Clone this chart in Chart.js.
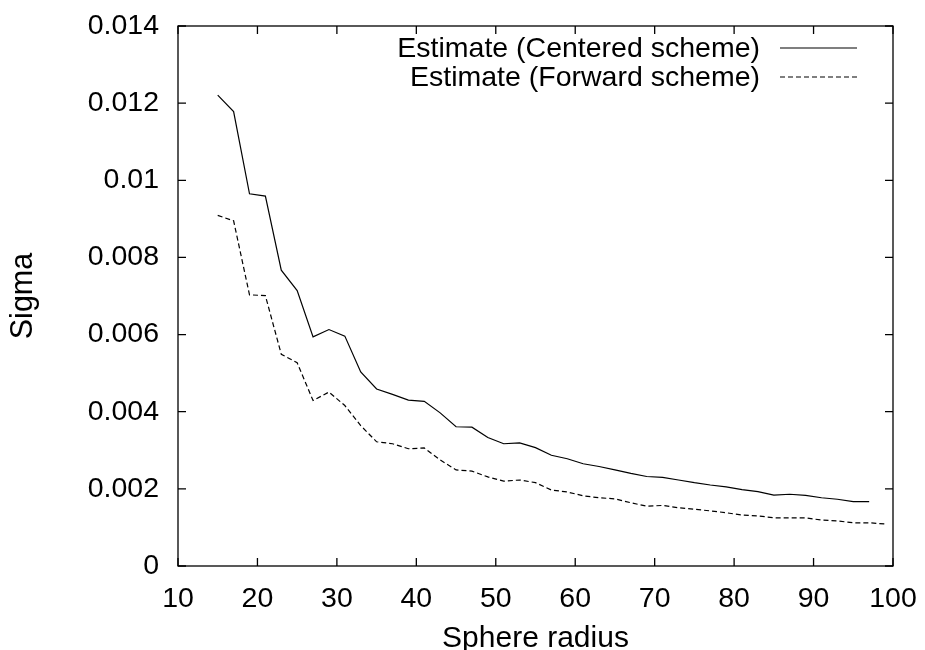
<!DOCTYPE html>
<html>
<head>
<meta charset="utf-8">
<script src="https://cdn.jsdelivr.net/npm/chart.js@4/dist/chart.umd.min.js"></script>
<style>
    body { margin: 0; background: #fff; }
    #wrap { width: 925px; height: 650px; }
</style>
</head>
<body>
<div id="wrap"><canvas id="sigma-chart" width="925" height="650"></canvas></div>
<script>
const centeredRadius = [15, 17, 19, 21, 23, 25, 27, 29, 31, 33, 35, 37, 39, 41, 43, 45, 47, 49, 51, 53, 55,
    57, 59, 61, 63, 65, 67, 69, 71, 73, 75, 77, 79, 81, 83, 85, 87, 89, 91, 93, 95, 97];
const centeredSigma = [0.01221, 0.01178, 0.00965, 0.00959, 0.00767, 0.00714, 0.00594, 0.00613, 0.00596,
    0.00503, 0.00459, 0.00445, 0.00430, 0.00427, 0.00397, 0.00361, 0.00360, 0.00333, 0.00317, 0.00319,
    0.00307, 0.00287, 0.00278, 0.00265, 0.00258, 0.00249, 0.00240, 0.00232, 0.00230, 0.00223, 0.00216,
    0.00210, 0.00205, 0.00198, 0.00193, 0.00184, 0.00186, 0.00183, 0.00177, 0.00173, 0.00167, 0.00167];

const forwardRadius = [15, 17, 19, 21, 23, 25, 27, 29, 31, 33, 35, 37, 39, 41, 43, 45, 47, 49, 51, 53, 55,
    57, 59, 61, 63, 65, 67, 69, 71, 73, 75, 77, 79, 81, 83, 85, 87, 89, 91, 93, 95, 97, 99];
const forwardSigma = [0.00909, 0.00895, 0.00703, 0.00701, 0.00549, 0.00527, 0.00429, 0.00451, 0.00416,
    0.00364, 0.00322, 0.00317, 0.00304, 0.00306, 0.00275, 0.00249, 0.00246, 0.00231, 0.00220, 0.00223,
    0.00216, 0.00197, 0.00192, 0.00182, 0.00177, 0.00174, 0.00164, 0.00155, 0.00157, 0.00151, 0.00147,
    0.00143, 0.00138, 0.00132, 0.00130, 0.00125, 0.00125, 0.00125, 0.00119, 0.00117, 0.00112, 0.00112,
    0.00109];

const xTickLabels = ['10', '20', '30', '40', '50', '60', '70', '80', '90', '100'];
const yTickLabels = ['0', '0.002', '0.004', '0.006', '0.008', '0.01', '0.012', '0.014'];

const FONT = 'Liberation Sans, Arial, Helvetica, sans-serif';

function toPoints(xs, ys) {
    return xs.map((x, i) => ({ x: x, y: ys[i] }));
}

// keep the plot box where the layout padding puts it
function noScalePadding(scale) {
    scale.paddingLeft = 0;
    scale.paddingRight = 0;
    scale.paddingTop = 0;
    scale.paddingBottom = 0;
}

// gnuplot style: full frame with inward ticks mirrored on all sides
const framePlugin = {
    id: 'frame',
    afterDraw(chart) {
        const ctx = chart.ctx;
        const area = chart.chartArea;
        const xs = chart.scales.x;
        const ys = chart.scales.y;
        const len = 8;
        ctx.save();
        ctx.strokeStyle = '#000';
        ctx.lineWidth = 1.3;
        ctx.beginPath();
        xs.ticks.forEach(t => {
            const px = xs.getPixelForValue(t.value);
            ctx.moveTo(px, area.bottom);
            ctx.lineTo(px, area.bottom - len);
            ctx.moveTo(px, area.top);
            ctx.lineTo(px, area.top + len);
        });
        ys.ticks.forEach(t => {
            const py = ys.getPixelForValue(t.value);
            ctx.moveTo(area.left, py);
            ctx.lineTo(area.left + len, py);
            ctx.moveTo(area.right, py);
            ctx.lineTo(area.right - len, py);
        });
        ctx.stroke();
        ctx.strokeRect(area.left, area.top, area.right - area.left, area.bottom - area.top);
        ctx.restore();
    }
};

// key in the top right corner: text right aligned, line sample after it
const keyPlugin = {
    id: 'key',
    afterDraw(chart) {
        const ctx = chart.ctx;
        const area = chart.chartArea;
        const textRight = area.right - 133;
        const sampleLeft = area.right - 113;
        const sampleRight = area.right - 36;
        ctx.save();
        ctx.font = '28.5px ' + FONT;
        ctx.textAlign = 'right';
        ctx.textBaseline = 'middle';
        chart.data.datasets.forEach((ds, i) => {
            const y = area.top + 22 + i * 29;
            ctx.fillStyle = '#000';
            ctx.fillText(ds.label, textRight, y + 1);
            ctx.strokeStyle = ds.borderColor;
            ctx.lineWidth = ds.borderWidth;
            ctx.setLineDash(ds.borderDash || []);
            ctx.beginPath();
            ctx.moveTo(sampleLeft, y);
            ctx.lineTo(sampleRight, y);
            ctx.stroke();
        });
        ctx.restore();
    }
};

const sigmaChart = new Chart(document.getElementById('sigma-chart'), {
    type: 'line',
    data: {
        datasets: [{
            label: 'Estimate (Centered scheme)',
            data: toPoints(centeredRadius, centeredSigma),
            borderColor: '#000',
            borderWidth: 1.2,
            pointRadius: 0,
            fill: false
        }, {
            label: 'Estimate (Forward scheme)',
            data: toPoints(forwardRadius, forwardSigma),
            borderColor: '#000',
            borderWidth: 1.2,
            borderDash: [5, 3],
            pointRadius: 0,
            fill: false
        }]
    },
    options: {
        responsive: false,
        animation: false,
        layout: {
            padding: { top: 26, right: 32, left: 0, bottom: 0 }
        },
        plugins: {
            legend: { display: false },
            tooltip: { enabled: false }
        },
        scales: {
            x: {
                type: 'linear',
                min: 10,
                max: 100,
                grid: { display: false, drawTicks: false },
                border: { display: false },
                ticks: {
                    stepSize: 10,
                    padding: 16,
                    color: '#000',
                    maxRotation: 0,
                    font: { family: FONT, size: 28.5 },
                    callback: (v, i) => xTickLabels[i]
                },
                title: {
                    display: true,
                    text: 'Sphere radius',
                    color: '#000',
                    font: { family: FONT, size: 30, lineHeight: 0.75 },
                    padding: { top: 0, bottom: 0 }
                },
                afterFit(scale) {
                    scale.height = 84;
                    noScalePadding(scale);
                }
            },
            y: {
                type: 'linear',
                min: 0,
                max: 0.014,
                grid: { display: false, drawTicks: false },
                border: { display: false },
                ticks: {
                    stepSize: 0.002,
                    padding: 19,
                    color: '#000',
                    font: { family: FONT, size: 28.5 },
                    callback: (v, i) => yTickLabels[i]
                },
                title: {
                    display: true,
                    text: 'Sigma',
                    color: '#000',
                    font: { family: FONT, size: 30.5, lineHeight: 1 },
                    padding: { top: 8, bottom: 0 }
                },
                afterFit(scale) {
                    scale.width = 178;
                    noScalePadding(scale);
                }
            }
        }
    },
    plugins: [framePlugin, keyPlugin]
});
</script>
</body>
</html>
